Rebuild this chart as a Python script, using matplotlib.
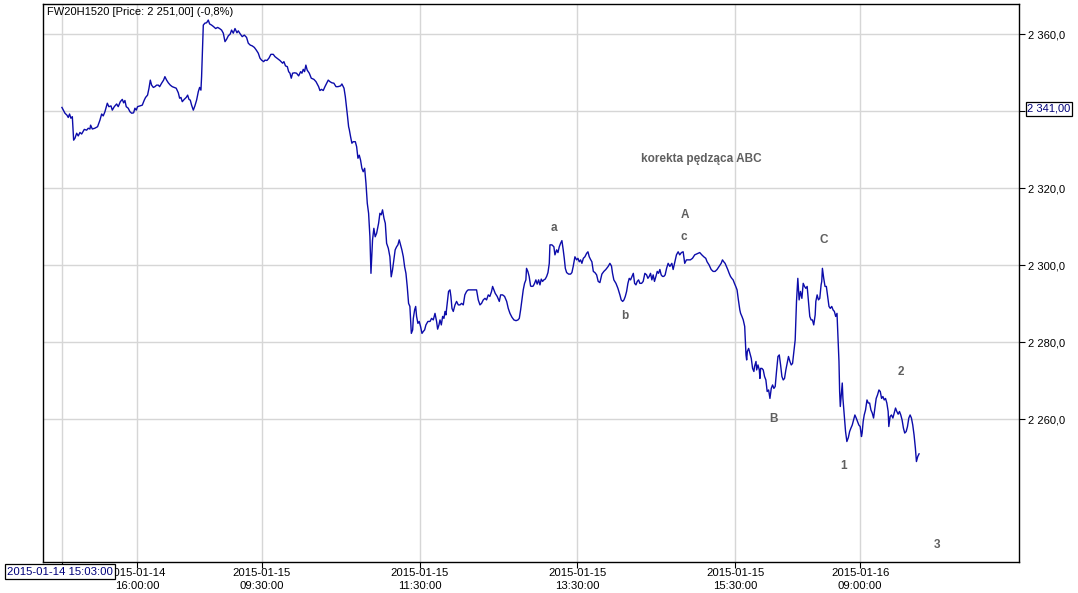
import matplotlib
matplotlib.use('Agg')
import matplotlib.pyplot as plt
import matplotlib.transforms as mtransforms

plt.rcParams['font.family'] = ['Liberation Sans', 'DejaVu Sans']

title = "FW20H1520 [Price: 2 251,00] (-0,8%)"

# x = minute index of the 1-minute bars (overnight gaps removed), y = price
# Session 2015-01-14 (15:03 - 16:50)
day1_idx = [0, 2.3, 3.8, 4.8, 5.8, 6.8, 7.9, 8.9, 9.9, 11.2, 12.4, 13.7, 15.0, 17.0, 18.8,
            20.0, 21.3, 21.8, 23.1, 25.0, 27.1, 28.9, 30.2, 31.4, 32.7, 34.5, 35.7, 37.3,
            38.3, 39.8, 41.6, 42.8, 44.4, 45.9, 46.9, 47.9, 48.9, 50.4, 51.7, 53.0, 54.5,
            55.5, 56.5, 57.5, 59.3, 61.1, 62.6, 63.6, 65.1, 66.2, 67.2, 68.2, 69.5, 70.7,
            72.0, 73.3, 74.3, 75.8, 77.3, 78.3, 79.6, 80.9, 82.4, 83.9, 85.4, 86.9, 88.5,
            89.5, 90.5, 91.5, 93.0, 94.5, 95.6, 96.6, 97.6, 98.6, 99.9, 101.1, 102.4, 103.7,
            104.7, 105.7, 106.2]
day1_price = [2341.0, 2339.5, 2339.0, 2338.4, 2339.3, 2338.2, 2338.6, 2332.5, 2333.0, 2334.3,
              2333.6, 2334.5, 2334.1, 2335.3, 2335.1, 2335.6, 2335.4, 2336.4, 2335.4, 2335.6,
              2336.0, 2337.7, 2339.3, 2338.8, 2339.9, 2342.1, 2341.2, 2341.4, 2340.3, 2341.2,
              2341.9, 2341.2, 2342.5, 2343.1, 2342.2, 2342.8, 2341.2, 2340.8, 2339.9, 2339.5,
              2339.6, 2340.8, 2340.3, 2341.2, 2341.4, 2341.6, 2342.9, 2343.6, 2344.2, 2346.0,
              2348.1, 2346.8, 2346.2, 2346.4, 2346.8, 2346.8, 2346.4, 2347.3, 2348.1, 2349.0,
              2348.1, 2347.4, 2346.8, 2346.4, 2346.2, 2346.0, 2344.8, 2343.4, 2343.6, 2342.5,
              2343.1, 2343.6, 2344.2, 2343.1, 2342.9, 2341.6, 2340.3, 2341.4, 2342.9, 2345.1,
              2346.2, 2345.5, 2349.0]

# Session 2015-01-15 (08:45 - 16:50)
day2_idx = [107.5, 108.7, 110.0, 111.3, 112.3, 113.8, 115.3, 116.9, 118.4, 119.9, 121.4, 122.7,
            124.0, 125.2, 126.5, 128.0, 129.0, 130.3, 131.6, 133.1, 134.1, 135.6, 137.1, 138.7,
            140.4, 141.7, 143.2, 144.7, 146.3, 147.8, 149.3, 150.6, 151.8, 153.4, 154.4, 155.9,
            157.4, 158.9, 160.7, 162.0,
            165.8, 167.8, 168.8, 170.0, 171.4, 172.4, 173.4, 174.4, 175.4, 176.9, 178.4, 180.0,
            181.5, 182.5, 183.5, 184.5, 185.5, 186.5, 188.1, 189.6, 191.6, 193.2, 195.2, 196.2,
            197.4, 198.7, 200.0, 201.3, 202.5, 203.8, 205.3, 206.8, 208.4, 209.9, 211.9, 212.9,
            214.5, 215.5, 216.5, 217.2, 218.0, 218.5, 219.5, 220.5, 221.5, 223.1, 224.1, 225.1,
            226.1, 227.1, 228.1, 229.1, 230.2, 231.2, 232.2, 233.2, 234.2, 235.0, 235.7, 236.2,
            237.2, 238.2, 239.3, 240.8, 241.8, 242.8, 243.8, 244.9, 245.9, 246.9, 248.2, 249.4,
            250.4, 251.4, 252.4, 253.4, 254.5, 255.5, 256.5, 257.5, 258.5, 259.6, 260.6, 261.6,
            262.6, 263.6, 264.6, 265.7, 266.7, 267.2, 268.2, 269.0, 269.7, 270.7, 271.7, 272.7,
            273.8, 274.8, 275.8, 276.8, 278.3, 279.9,
            281.1, 282.4, 283.7, 284.9, 285.7, 286.7, 287.5, 288.5, 289.5, 290.5, 291.3, 292.0,
            293.0, 294.0, 295.1, 295.8, 296.6, 297.6, 298.9, 300.1, 301.4, 302.7, 303.9, 305.2,
            306.4, 307.7, 308.9, 315.3, 316.6, 317.9, 319.1, 320.4, 321.7, 322.9, 324.2, 325.4,
            326.7, 327.5, 328.5, 329.5, 331.0, 332.6, 333.6, 335.1, 336.6, 338.2, 339.4, 340.7,
            342.2, 343.7, 345.3, 346.8, 347.8, 348.8, 349.8, 350.8, 351.8, 352.8, 353.3, 354.3,
            355.3, 356.4, 357.4, 358.4, 359.4, 360.4, 361.4, 362.5, 363.5, 364.5, 365.5, 366.5,
            367.5, 368.6, 369.6, 370.6, 371.1, 372.6, 374.1, 374.9, 376.2, 377.2, 378.2, 379.2,
            380.2, 381.2, 382.0, 382.8, 383.8, 385.3, 386.8, 387.8, 388.8, 390.1, 391.4, 392.4,
            393.4, 394.4, 395.4, 396.5, 397.7, 399.0, 400.0, 401.0, 402.0, 403.0, 404.1, 405.3,
            406.6, 407.8, 409.1, 410.6, 412.1, 413.6, 415.4, 416.7, 417.9, 418.7, 419.7, 421.3,
            422.8, 424.3, 425.3, 426.4, 427.4, 428.4, 429.4, 430.4, 431.4, 432.4, 433.5, 434.5,
            435.5, 436.5, 437.5, 438.5, 439.5, 440.8, 442.0, 443.3, 444.6, 445.6, 446.6, 447.6,
            448.6, 449.6, 450.6, 451.7, 452.7, 453.7, 454.7, 455.7, 456.7, 457.7, 458.7, 459.8,
            461.0, 462.3, 463.8, 464.8, 466.1, 467.3, 468.6, 469.8, 471.1, 472.4, 473.6, 474.9,
            476.4, 477.9, 479.5, 481.2, 482.5, 484.0, 485.0, 486.6, 488.1, 489.6, 490.6, 492.1,
            493.7, 495.2, 496.7, 498.2, 499.8, 501.3, 502.3, 503.3, 504.3, 505.3, 506.3, 507.4,
            508.4, 509.4, 510.4, 511.4, 512.4, 513.4, 514.4, 515.5,
            516.1, 517.1, 518.1, 519.2, 519.8, 520.2, 520.7, 521.2, 522.2, 523.2, 524.2, 525.2,
            526.2, 526.7, 527.8, 528.3, 529.3, 530.3, 530.8, 531.3, 532.3, 533.3, 534.3, 535.3,
            536.3, 537.4, 538.4, 539.4, 540.4, 541.4, 542.4, 543.4, 544.5, 545.5, 546.5, 547.5,
            548.5, 549.5, 550.5, 551.5, 552.5, 553.6, 554.6, 555.6, 556.6, 557.6, 558.6, 559.6,
            560.6, 561.6, 562.7, 563.7, 564.7, 565.7, 566.7, 567.7, 568.7, 569.7, 570.7, 571.7,
            572.8, 573.3, 574.3, 575.3, 576.3, 577.3, 577.8, 578.3, 579.3, 580.3, 581.3, 582.3,
            583.3, 584.3, 585.4, 586.4, 587.4, 588.4, 589.4, 590.1, 590.9, 591.4]
day2_price = [2362.4, 2362.9, 2363.0, 2363.7, 2362.7, 2362.4, 2362.0, 2361.5, 2361.8, 2361.5,
              2361.1, 2360.3, 2358.1, 2358.7, 2359.6, 2360.1, 2361.1, 2360.3, 2361.5, 2360.4,
              2360.9, 2360.1, 2359.4, 2359.8, 2359.2, 2357.7, 2357.2, 2357.0, 2356.6, 2355.9,
              2355.1, 2353.8, 2353.3, 2352.9, 2353.3, 2353.2, 2353.8, 2354.8, 2354.8, 2354.2,
              2353.2, 2352.5, 2352.9, 2351.8, 2351.6, 2350.3, 2349.9, 2348.6, 2349.9, 2350.0,
              2349.9, 2349.2, 2350.3, 2349.9, 2350.9, 2350.3, 2352.0, 2350.7, 2349.9, 2348.6,
              2348.3, 2347.7, 2346.4, 2345.4, 2345.7, 2345.4, 2346.4, 2347.3, 2348.1, 2347.7,
              2347.4, 2347.3, 2346.4, 2346.4, 2346.6, 2347.1, 2346.0, 2343.8, 2340.8, 2338.6,
              2336.0, 2335.3, 2333.4, 2331.7, 2332.1, 2332.1, 2330.8, 2327.8, 2328.6, 2327.3,
              2325.2, 2324.3, 2325.2, 2321.3, 2316.1, 2313.5, 2307.4, 2297.9, 2303.1, 2306.6,
              2309.6, 2307.4, 2308.3, 2310.9, 2313.5, 2313.1, 2314.4, 2312.2, 2310.9, 2305.7,
              2304.4, 2302.2, 2297.0, 2298.8, 2301.4, 2304.0, 2304.8, 2305.3, 2306.6, 2305.3,
              2304.0, 2302.2, 2299.6, 2297.9, 2294.4, 2290.1, 2289.3, 2282.3, 2283.2, 2286.2,
              2288.4, 2289.3, 2286.7, 2284.9, 2285.4, 2284.1, 2282.3, 2282.8, 2283.2, 2284.5,
              2285.4, 2285.4,
              2286.2, 2285.8, 2287.5, 2285.4, 2283.4, 2284.5, 2285.8, 2284.5, 2286.7, 2286.2,
              2288.0, 2287.1, 2290.1, 2293.2, 2293.6, 2291.9, 2288.8, 2288.0, 2289.7, 2290.6,
              2289.7, 2289.7, 2290.1, 2289.7, 2292.3, 2293.2, 2293.6, 2293.6, 2291.0, 2289.7,
              2290.1, 2291.0, 2291.4, 2291.0, 2292.3, 2291.9, 2293.2, 2294.5, 2293.6, 2292.7,
              2291.9, 2290.6, 2292.3, 2292.3, 2291.9, 2290.6, 2288.8, 2287.5, 2286.5, 2285.8,
              2285.6, 2285.8, 2286.2, 2288.4, 2291.0, 2293.6, 2295.3, 2296.2, 2299.2, 2298.4,
              2297.1, 2294.6, 2294.5, 2294.6, 2295.3, 2296.2, 2295.1, 2296.2, 2294.9, 2296.4,
              2295.8, 2296.2, 2296.4, 2297.1, 2298.1, 2300.5, 2305.3, 2305.3, 2304.8, 2302.7,
              2304.0, 2303.3, 2304.8, 2305.7, 2306.4, 2304.0, 2301.8, 2299.2, 2298.1, 2297.7,
              2297.7, 2298.1, 2299.7, 2302.2, 2301.4, 2301.8, 2300.9, 2301.4, 2300.5, 2301.8,
              2302.2, 2303.1, 2303.5, 2302.2, 2301.5, 2300.9, 2298.4, 2298.1, 2297.5, 2295.8,
              2295.5, 2297.7, 2298.4, 2298.9, 2299.7, 2300.5, 2299.8, 2297.9, 2296.2, 2295.3,
              2294.0, 2292.3, 2291.0, 2290.6, 2291.0, 2291.9, 2293.2, 2295.3, 2296.6, 2296.2,
              2297.1, 2297.9, 2295.3, 2294.9, 2295.8, 2296.2, 2295.3, 2295.3, 2295.8, 2297.9,
              2297.5, 2296.6, 2297.1, 2297.9, 2296.2, 2297.5, 2295.8, 2297.1, 2298.4, 2297.9,
              2298.9, 2297.5, 2297.1, 2297.1, 2297.5, 2299.2, 2300.5, 2299.7, 2300.5, 2298.9,
              2300.9, 2302.7, 2303.5, 2302.7, 2303.3, 2303.5, 2300.5, 2301.4, 2301.4, 2301.4,
              2301.8, 2302.7, 2302.9, 2303.1, 2303.3, 2302.7, 2302.2, 2301.8, 2300.9, 2300.1,
              2298.9, 2298.4, 2298.4, 2298.9, 2299.7, 2300.5, 2301.4, 2300.9, 2300.5, 2299.7,
              2298.9, 2297.9, 2297.1, 2296.6, 2296.2, 2295.3, 2294.5, 2293.6, 2291.0, 2288.4,
              2287.5, 2286.7, 2285.8, 2284.1, 2279.3, 2276.7, 2275.4, 2277.6, 2278.4, 2277.1,
              2275.8, 2273.2, 2272.4, 2273.7, 2275.0, 2272.8, 2274.1, 2272.8, 2270.6, 2273.2,
              2273.2, 2272.8, 2271.1, 2270.2, 2267.2, 2267.6, 2265.4, 2268.0, 2268.9, 2268.0,
              2268.5, 2272.4, 2276.3, 2276.7, 2274.1, 2271.1, 2270.2, 2270.6, 2272.8, 2274.5,
              2276.3, 2275.0, 2274.1, 2274.5, 2277.6, 2280.6, 2290.6, 2296.6, 2291.0, 2293.2,
              2291.4, 2295.3, 2294.5, 2294.0, 2294.5, 2290.6, 2286.7, 2285.8, 2285.8, 2284.5,
              2287.1, 2290.6, 2292.3, 2291.0, 2291.4, 2294.9, 2295.8, 2299.2, 2296.6, 2294.5,
              2294.5, 2291.9, 2289.3, 2288.8, 2289.3, 2288.4, 2288.0, 2286.7, 2287.5, 2281.9,
              2275.0, 2267.2]

# Session 2015-01-16 (from 08:45)
day3_idx = [591.9, 592.9, 593.4, 593.9, 594.9, 595.9, 596.9, 598.0, 599.0, 600.0, 601.0, 602.0,
            603.0, 604.0, 605.0, 606.0, 607.0, 608.0, 608.5, 609.3, 610.1, 611.1, 612.2, 613.2,
            614.2, 615.2, 616.2, 617.2, 618.2, 619.2, 620.2, 621.3, 622.3, 623.3, 624.3, 625.3,
            626.3, 627.3, 628.3, 628.8, 629.8, 630.8, 631.9, 632.9, 633.9, 634.9, 635.9, 636.9,
            637.9, 638.9, 639.9, 640.9, 642.0, 643.0, 644.0, 645.0, 646.0, 647.0, 648.0, 649.0,
            649.8, 650.8, 651.8]
day3_price = [2263.3, 2267.2, 2269.4, 2265.4, 2261.1, 2256.8, 2254.2, 2255.2, 2256.8, 2257.7,
              2258.5, 2259.8, 2261.1, 2260.3, 2259.4, 2258.5, 2258.1, 2255.5, 2256.4, 2259.4,
              2261.1, 2262.4, 2265.0, 2264.2, 2264.2, 2262.4, 2261.6, 2260.3, 2262.9, 2265.4,
              2266.3, 2267.6, 2267.2, 2265.4, 2265.9, 2265.0, 2265.4, 2264.2, 2262.0, 2258.1,
              2260.7, 2261.1, 2260.3, 2261.6, 2262.9, 2262.0, 2261.3, 2262.0, 2261.1, 2259.8,
              2257.7, 2256.4, 2256.8, 2258.1, 2260.3, 2261.1, 2260.3, 2258.5, 2255.9, 2252.5,
              2249.0, 2250.3, 2251.0]

x_tick_pos = [0, 57, 152, 272, 392, 512, 607]
x_tick_labels = ['', '2015-01-14\n16:00:00', '2015-01-15\n09:30:00', '2015-01-15\n11:30:00',
                 '2015-01-15\n13:30:00', '2015-01-15\n15:30:00', '2015-01-16\n09:00:00']
y_tick_vals = [2260, 2280, 2300, 2320, 2340, 2360]
y_tick_labels = ['2 260,0', '2 280,0', '2 300,0', '2 320,0', '', '2 360,0']

cursor_time = '2015-01-14 15:03:00'
cursor_price = 2341.0
cursor_price_label = '2 341,00'

# Wave labels: (text, bar index, price)
wave_labels = [('korekta pędząca ABC', 486, 2327.6),
               ('a', 374, 2309.7), ('A', 474, 2313.0), ('c', 473, 2307.4),
               ('b', 428, 2286.9), ('C', 579.5, 2306.6), ('B', 541.4, 2260.1),
               ('1', 594.7, 2247.9), ('2', 638, 2272.3), ('3', 665.4, 2227.4)]

xs = day1_idx + day2_idx + day3_idx
ys = day1_price + day2_price + day3_price

W, H = 1078, 593
fig = plt.figure(figsize=(W / 100, H / 100), dpi=100)
ax = fig.add_axes([43 / W, 31 / H, 976 / W, 557.7 / H])
ax.set_xlim(-14.4, 727.8)
ax.set_ylim(2222.9, 2367.8)

ax.plot(xs, ys, color='#0c0caa', lw=1.0, zorder=3)

ax.set_xticks(x_tick_pos)
ax.set_xticklabels(x_tick_labels, fontsize=8.2, linespacing=1.3)
ax.set_yticks(y_tick_vals)
ax.set_yticklabels(y_tick_labels, fontsize=8)
ax.yaxis.tick_right()
ax.tick_params(axis='y', direction='out', length=4, width=0.8, pad=2.5, colors='black')
ax.tick_params(axis='x', direction='out', length=4, width=0.8, pad=0.5, colors='black')
ax.grid(True, color='#d6d6d6', linewidth=1.0)
ax.set_axisbelow(True)
for s in ax.spines.values():
    s.set_color('black')
    s.set_linewidth(1.0)

ax.text(0.004, 0.996, title, transform=ax.transAxes, ha='left', va='top', fontsize=8,
        color='black')

for txt, xv, yv in wave_labels:
    ax.text(xv, yv, txt, ha='center', va='center', fontsize=8.5, fontweight='bold',
            color='#5f5f5f', zorder=4)

trans_xd = mtransforms.blended_transform_factory(ax.transData, ax.transAxes)
ax.text(-1.5, -0.0175, cursor_time, transform=trans_xd, ha='center', va='center',
        fontsize=8.2, color='#00007a', clip_on=False, zorder=10,
        bbox=dict(boxstyle='square,pad=0.2', fc='white', ec='black', lw=0.9))
trans_ad = mtransforms.blended_transform_factory(ax.transAxes, ax.transData)
ax.text(1.0085, cursor_price - 0.4, cursor_price_label, transform=trans_ad, ha='left',
        va='center', fontsize=8, color='#00007a', clip_on=False, zorder=10,
        bbox=dict(boxstyle='square,pad=0.15', fc='white', ec='black', lw=0.9))

fig.savefig('out.png', dpi=100)
